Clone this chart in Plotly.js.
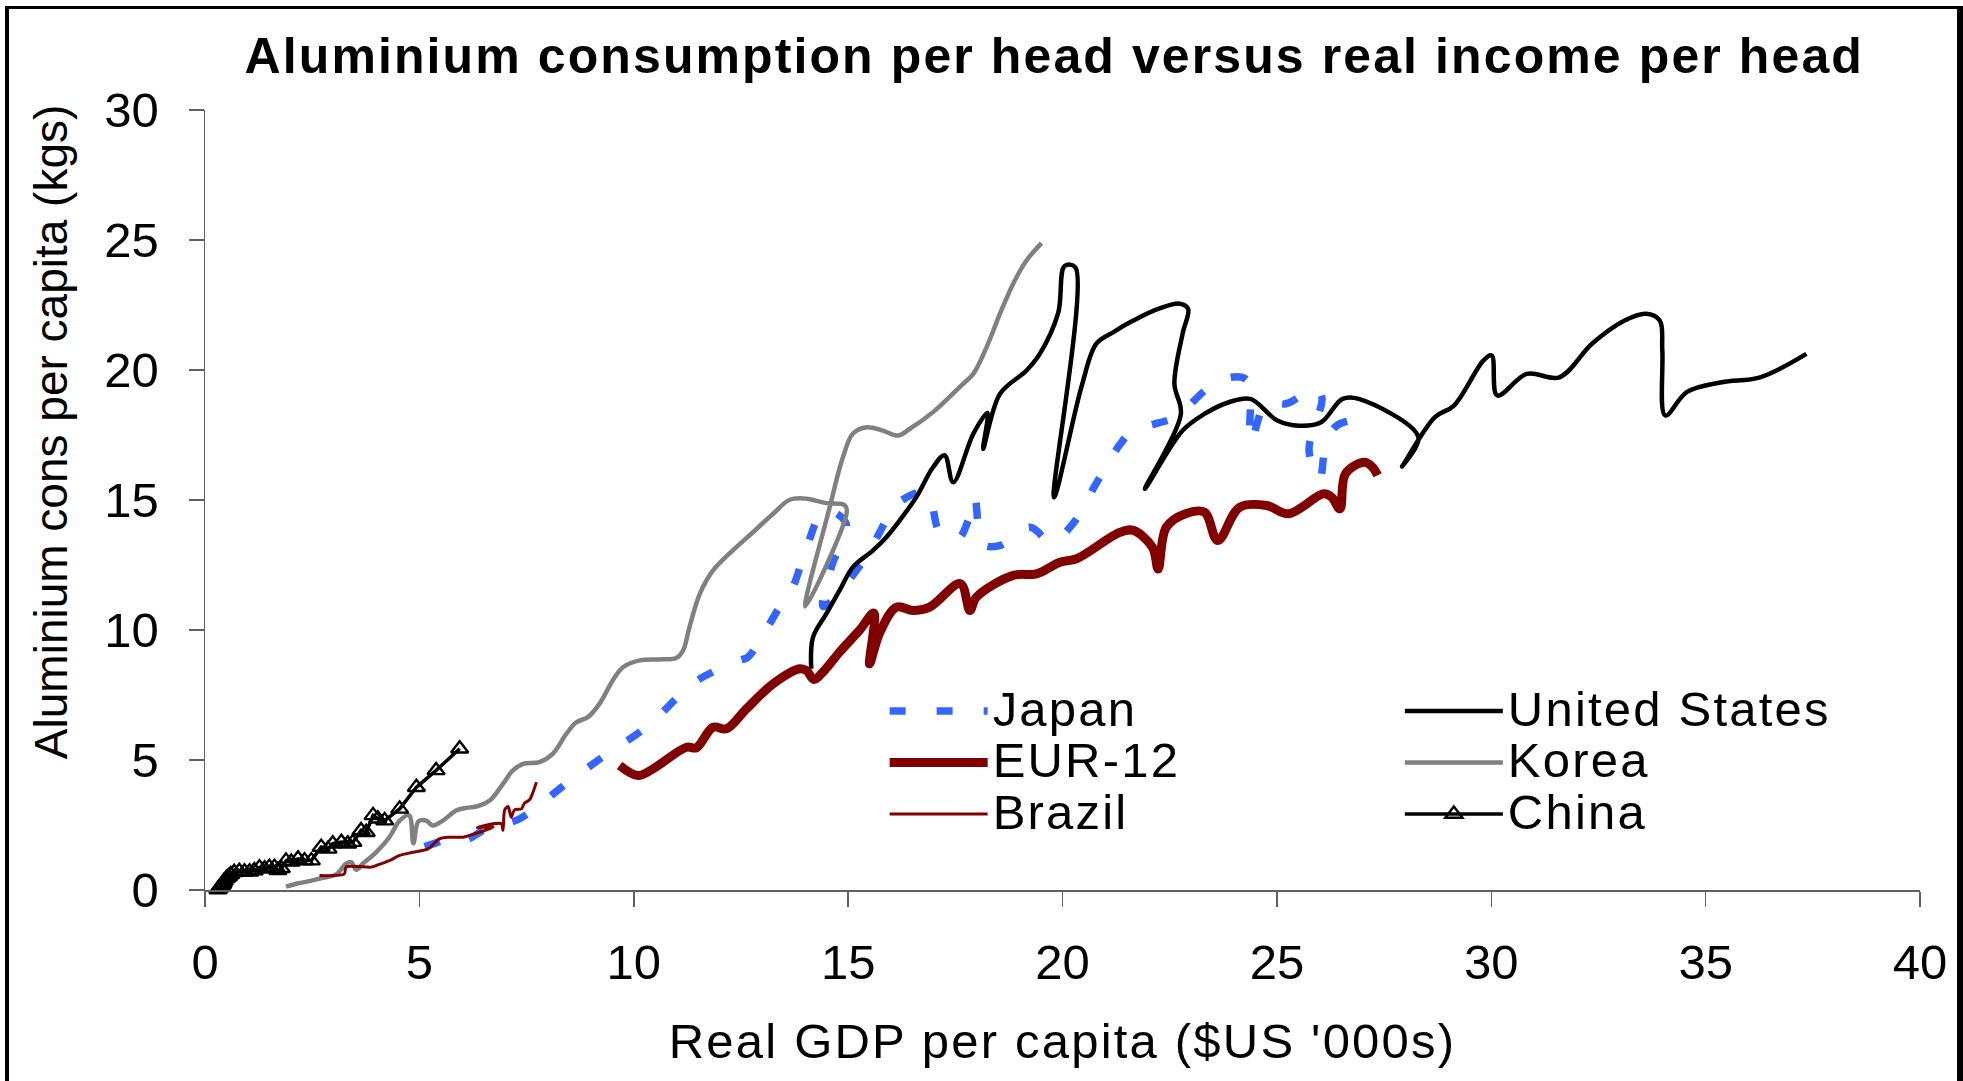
<!DOCTYPE html>
<html>
<head>
<meta charset="utf-8">
<script src="https://cdn.plot.ly/plotly-3.0.1.min.js"></script>
<style>
body{margin:0;overflow:hidden;background:#fff}
#wrap{position:relative;width:1963px;height:1081px;overflow:hidden}
#chart{position:absolute;left:0;top:0;width:1963px;height:1081px}
#border{position:absolute;left:5px;top:6px;width:1948px;height:1200px;border-left:4px solid #000;border-top:3px solid #000;border-right:6px solid #000;pointer-events:none;z-index:10}
.gtitle{letter-spacing:2.1px}
.legendtext, .legendtext tspan{letter-spacing:2.2px !important}
.xtitle{letter-spacing:2.2px}
</style>
</head>
<body>
<div id="wrap"><div id="chart"></div><div id="border"></div></div>
<script>
// ---- data (GDP per capita, $US '000s ; aluminium kg per capita) ----
var japanX = [5.12,5.43,5.71,6.01,6.17,6.56,7.00,7.34,7.88,8.47,9.32,10.29,11.15,11.54,12.47,12.66,12.94,13.40,13.71,14.03,14.45,14.95,14.61,14.42,15.31,15.97,16.13,16.83,17.14,17.56,17.80,17.95,18.15,18.54,19.24,19.74,20.27,20.78,21.35,21.62,22.55,22.74,23.37,23.75,24.30,24.38,24.76,25.21,25.90,26.05,25.75,26.00,26.15,26.41,27.04,27.25];
var japanY = [1.67,1.84,2.03,1.90,1.98,2.35,2.55,2.74,3.38,4.15,5.17,6.26,7.61,8.12,8.83,8.95,9.60,10.88,11.65,13.18,14.60,14.10,12.42,10.90,12.55,14.47,14.85,15.30,13.76,13.51,14.21,15.11,13.30,13.25,13.95,13.38,14.15,15.62,17.16,17.63,18.12,18.31,19.28,19.66,19.62,17.20,18.76,18.70,19.28,18.95,16.90,15.80,17.20,17.88,18.12,18.00];

var usX = [14.14,14.18,14.49,14.80,15.11,15.58,15.89,16.20,16.59,16.98,17.25,17.45,17.92,18.25,18.15,18.54,19.16,19.47,19.90,20.05,20.30,19.80,20.45,20.79,21.18,21.65,22.23,22.74,22.93,22.80,22.61,22.76,21.92,22.80,23.30,23.88,24.38,25.01,25.52,26.03,26.53,26.91,28.30,27.92,28.68,29.13,29.82,30.01,30.14,30.83,31.59,32.35,33.11,33.61,33.93,33.99,34.06,34.56,35.38,36.27,37.35];
var usY = [8.51,9.72,10.62,11.52,12.42,13.06,13.57,14.21,15.11,16.26,16.72,15.68,17.55,18.35,16.97,19.08,19.98,20.62,22.20,24.00,23.95,15.10,19.40,21.01,21.45,21.90,22.35,22.55,22.35,21.39,19.47,18.30,15.43,17.67,18.30,18.76,18.89,18.06,17.86,17.99,18.89,18.89,17.42,16.29,18.18,18.63,20.37,20.56,19.02,19.85,19.72,21.01,21.90,22.16,21.90,20.75,18.25,19.15,19.53,19.72,20.62];

var eurX = [9.67,10.10,10.45,11.23,11.46,11.85,12.16,12.63,13.25,13.87,14.03,14.20,14.45,14.80,15.27,15.60,15.50,15.74,16.13,16.51,16.90,17.62,17.84,17.99,18.85,19.39,19.94,20.33,21.34,21.65,22.10,22.23,22.42,22.87,23.31,23.62,24.13,24.76,25.27,26.09,26.28,26.47,26.60,27.04,27.23,27.35];
var eurY = [4.79,4.40,4.66,5.49,5.47,6.26,6.20,6.97,7.93,8.51,8.44,8.10,8.45,9.15,10.00,10.65,8.70,9.90,10.88,10.75,10.88,11.78,10.75,11.26,12.10,12.16,12.61,12.74,13.76,13.83,13.18,12.35,13.95,14.47,14.53,13.44,14.72,14.79,14.47,15.24,15.11,14.66,16.01,16.45,16.26,15.95];

var koreaX = [1.89,2.13,2.44,2.75,3.06,3.29,3.41,3.53,3.68,3.99,4.30,4.54,4.76,4.86,4.98,5.16,5.31,5.55,5.86,6.09,6.33,6.64,6.95,7.18,7.42,7.80,8.11,8.43,8.66,8.93,9.20,9.51,9.75,10.14,10.60,10.99,11.15,11.30,11.54,11.85,12.31,12.78,13.25,13.64,14.03,14.49,14.92,14.97,14.00,14.57,14.88,15.11,15.43,15.81,16.16,16.44,16.98,17.68,17.92,18.23,18.54,18.85,19.16,19.51];
var koreaY = [0.13,0.24,0.34,0.47,0.60,1.01,1.07,0.78,1.01,1.45,2.03,2.67,2.87,1.80,2.65,2.67,2.48,2.67,3.06,3.16,3.21,3.44,4.08,4.60,4.85,4.92,5.24,6.01,6.45,6.65,7.16,8.06,8.57,8.83,8.87,8.92,9.21,10.11,11.39,12.29,13.06,13.76,14.47,15.01,15.05,14.88,14.80,14.55,10.90,14.72,16.65,17.55,17.80,17.67,17.48,17.74,18.38,19.47,19.85,20.88,22.16,23.32,24.21,24.88];

var brazilX = [2.67,3.25,3.29,3.88,3.99,4.30,4.54,4.85,5.20,5.47,5.70,6.02,6.17,6.40,6.72,6.35,6.91,6.95,6.99,7.07,7.14,7.22,7.38,7.45,7.57,7.65,7.73];
var brazilY = [0.56,0.62,0.88,0.88,0.94,1.13,1.33,1.45,1.58,1.97,2.03,2.03,2.10,2.22,2.42,2.40,2.55,2.29,3.08,3.21,2.80,3.08,3.12,3.34,3.47,3.76,4.15];

var chinaX = [0.30,0.32,0.35,0.37,0.40,0.42,0.45,0.50,0.55,0.60,0.68,0.80,0.92,1.04,1.15,1.27,1.39,1.50,1.62,1.70,1.78,1.89,2.01,2.17,2.32,2.48,2.71,2.87,2.98,3.18,3.33,3.45,3.64,3.76,3.92,4.03,4.19,4.54,4.93,5.39,5.94];
var chinaY = [0.02,0.05,0.10,0.15,0.20,0.25,0.35,0.45,0.52,0.60,0.68,0.72,0.70,0.70,0.75,0.86,0.82,0.88,0.88,0.76,0.83,1.12,1.08,1.20,1.13,1.13,1.65,1.58,1.78,1.84,1.78,1.84,2.29,2.22,2.87,2.74,2.67,3.12,3.95,4.60,5.43];

var seriesNames = ['Japan','United States','EUR-12','Korea','Brazil','China'];
var xTicks = [0,5,10,15,20,25,30,35,40];
var yTicks = [0,5,10,15,20,25,30];
var titleText = 'Aluminium consumption per head versus real income per head';
var xTitleText = "Real GDP per capita ($US '000s)";
var yTitleText = 'Aluminium cons per capita (kgs)';

var FONT = '"Liberation Sans", Arial, Helvetica, sans-serif';
function nm(s){ return '<span style="font-size:49px;letter-spacing:2.2px">' + s + '</span>'; }

var traces = [
  {x: japanX, y: japanY, name: nm(seriesNames[0]), legend: 'legend', mode: 'lines',
   line: {color: '#3366FF', width: 7.5, dash: '16px,31px', shape: 'spline', smoothing: 1}},
  {x: usX, y: usY, name: nm(seriesNames[1]), legend: 'legend2', mode: 'lines',
   line: {color: '#000000', width: 4.5, shape: 'spline', smoothing: 1}},
  {x: eurX, y: eurY, name: nm(seriesNames[2]), legend: 'legend', mode: 'lines',
   line: {color: '#800000', width: 9, shape: 'spline', smoothing: 1}},
  {x: koreaX, y: koreaY, name: nm(seriesNames[3]), legend: 'legend2', mode: 'lines',
   line: {color: '#808080', width: 4.5, shape: 'spline', smoothing: 1}},
  {x: brazilX, y: brazilY, name: nm(seriesNames[4]), legend: 'legend', mode: 'lines',
   line: {color: '#800000', width: 3, shape: 'spline', smoothing: 0.8}},
  {x: chinaX, y: chinaY, name: nm(seriesNames[5]), legend: 'legend2', mode: 'lines+markers',
   cliponaxis: false,
   line: {color: '#000000', width: 3.5},
   marker: {symbol: 'triangle-up-open', size: 15, color: '#000000', line: {color: '#000000', width: 2.4}}}
];

var axisCommon = {
  showgrid: false, zeroline: false, showline: true, linecolor: '#606060', linewidth: 1.5,
  ticks: 'outside', ticklen: 15, tickwidth: 1.5, tickcolor: '#606060',
  tickfont: {family: FONT, size: 49, color: '#000'}, tickmode: 'array', fixedrange: true
};

var legendCommon = {
  xanchor: 'left', yanchor: 'top', bgcolor: 'rgba(0,0,0,0)', borderwidth: 0,
  font: {family: FONT, size: 37.3, color: '#000'}, itemwidth: 98, tracegroupgap: 0,
  traceorder: 'normal', orientation: 'v'
};

var layout = {
  width: 1963, height: 1081,
  margin: {l: 205, r: 43, t: 110, b: 191, pad: 0},
  paper_bgcolor: '#ffffff', plot_bgcolor: '#ffffff',
  font: {family: FONT, size: 49, color: '#000'},
  showlegend: true,
  title: {text: titleText,
          font: {family: FONT, size: 50, weight: 'bold', color: '#000'},
          x: 0.4952, xref: 'paper', xanchor: 'center', y: 0.9488, yref: 'container', yanchor: 'middle'},
  xaxis: Object.assign({}, axisCommon, {
    range: [0, 40], tickvals: xTicks, ticktext: xTicks.map(String), ticklabelstandoff: 14,
    title: {text: xTitleText, font: {family: FONT, size: 49, color: '#000'}, standoff: 35}
  }),
  yaxis: Object.assign({}, axisCommon, {
    range: [0, 30], tickvals: yTicks, ticktext: yTicks.map(String), ticklabelstandoff: 20
  }),
  annotations: [{
    text: yTitleText, textangle: -90, showarrow: false,
    xref: 'paper', yref: 'paper', x: -0.0898, y: 0.587, xanchor: 'center', yanchor: 'middle',
    font: {family: FONT, size: 46, color: '#000'}
  }],
  legend: Object.assign({}, legendCommon, {x: 0.3963, y: 0.2688}),
  legend2: Object.assign({}, legendCommon, {x: 0.6967, y: 0.2688})
};

Plotly.newPlot('chart', traces, layout, {staticPlot: true, displayModeBar: false});
</script>
</body>
</html>
